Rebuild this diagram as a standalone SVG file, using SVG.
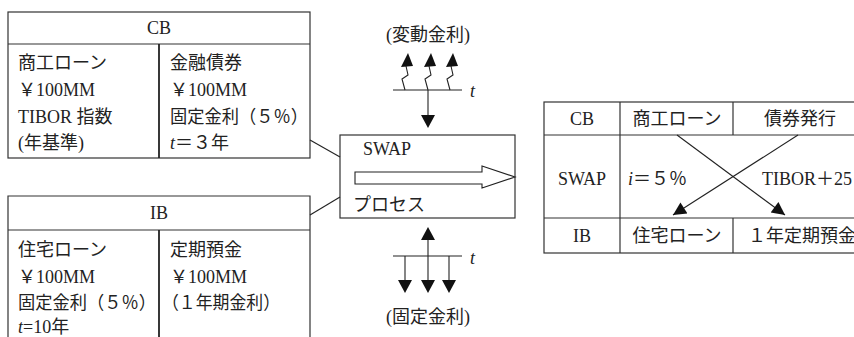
<svg xmlns="http://www.w3.org/2000/svg" width="854" height="337" viewBox="0 0 854 337">
<defs>
<style>
.t{font-family:"Liberation Serif","Noto Sans CJK JP",serif;font-size:18px;fill:#222}
.c{text-anchor:middle}
.b{fill:none;stroke:#333;stroke-width:1.2}
.d{stroke:#222;stroke-width:1.8}
.l{fill:none;stroke:#222;stroke-width:1.1}
.h{fill:#111;stroke:none}
</style>
<marker id="ah" viewBox="0 0 10 10" refX="10" refY="5" markerWidth="16" markerHeight="13" markerUnits="userSpaceOnUse" orient="auto"><path d="M0,0 L10,5 L0,10 Z" fill="#111"/></marker>
</defs>
<rect width="854" height="337" fill="#fff"/>

<g id="cb">
<rect class="b" x="8" y="12" width="302" height="146"/>
<line class="b" x1="8" y1="44" x2="310" y2="44"/>
<line class="d" x1="159" y1="44" x2="159" y2="158"/>
<text class="t c" x="159" y="34">CB</text>
<text class="t" x="18" y="69">商工ローン</text>
<text class="t" x="18" y="96">￥100MM</text>
<text class="t" x="18" y="123">TIBOR 指数</text>
<text class="t" x="18" y="149">(年基準)</text>
<text class="t" x="170" y="69">金融債券</text>
<text class="t" x="170" y="96">￥100MM</text>
<text class="t" x="170" y="123" textLength="138" lengthAdjust="spacingAndGlyphs">固定金利（５％）</text>
<text class="t" x="170" y="149"><tspan font-style="italic">t</tspan>＝３年</text>
</g>

<g id="ib">
<path class="b" d="M8,340 V196 H310 V340"/>
<line class="b" x1="8" y1="230" x2="310" y2="230"/>
<line class="d" x1="159" y1="230" x2="159" y2="340"/>
<text class="t c" x="159" y="219">IB</text>
<text class="t" x="18" y="256">住宅ローン</text>
<text class="t" x="18" y="283">￥100MM</text>
<text class="t" x="18" y="309" textLength="138" lengthAdjust="spacingAndGlyphs">固定金利（５％）</text>
<text class="t" x="18" y="333"><tspan font-style="italic">t</tspan>=10年</text>
<text class="t" x="170" y="256">定期預金</text>
<text class="t" x="170" y="283">￥100MM</text>
<text class="t" x="162" y="309" textLength="118" lengthAdjust="spacingAndGlyphs">（１年期金利）</text>
</g>

<g id="swap">
<rect class="b" x="340" y="135" width="175" height="83"/>
<text class="t" x="363" y="155">SWAP</text>
<path class="l" d="M355,172 H482 V166 L515,177 L482,188 V184 H355 Z"/>
<text class="t" x="353" y="211">プロセス</text>
</g>

<g id="floating">
<text class="t c" x="428" y="41">(変動金利)</text>
<line class="l" x1="393" y1="90" x2="462" y2="90"/>
<text class="t" x="470" y="97" font-style="italic">t</text>
<path class="l" d="M405,90 L402,79 L408,75 L406,66"/>
<polygon class="h" points="408,53 401,67 413,66"/>
<path class="l" d="M428,90 L425,79 L431,75 L429,66"/>
<polygon class="h" points="431,53 424,67 436,66"/>
<path class="l" d="M450,90 L447,79 L453,75 L451,66"/>
<polygon class="h" points="453,53 446,67 458,66"/>
<line class="l" x1="428" y1="90" x2="428" y2="116"/>
<polygon class="h" points="421,115 435,115 428,128"/>
</g>

<g id="fixed">
<polygon class="h" points="421,240 435,240 428,227"/>
<line class="l" x1="428" y1="240" x2="428" y2="281"/>
<line class="l" x1="393" y1="256" x2="462" y2="256"/>
<text class="t" x="470" y="264" font-style="italic">t</text>
<line class="l" x1="405" y1="256" x2="405" y2="281"/>
<line class="l" x1="449" y1="256" x2="449" y2="281"/>
<polygon class="h" points="398,280 412,280 405,293"/>
<polygon class="h" points="421,280 435,280 428,293"/>
<polygon class="h" points="442,280 456,280 449,293"/>
<text class="t c" x="428" y="323">(固定金利)</text>
</g>

<g id="table">
<rect class="b" x="544" y="102" width="320" height="151"/>
<line class="b" x1="544" y1="135" x2="864" y2="135"/>
<line class="b" x1="544" y1="218" x2="864" y2="218"/>
<line class="b" x1="620" y1="102" x2="620" y2="253"/>
<line class="b" x1="733" y1="102" x2="733" y2="135"/>
<line class="b" x1="733" y1="218" x2="733" y2="253"/>
<text class="t c" x="582" y="125">CB</text>
<text class="t c" x="677" y="125">商工ローン</text>
<text class="t c" x="800" y="125">債券発行</text>
<text class="t c" x="582" y="185">SWAP</text>
<text class="t" x="628" y="185"><tspan font-style="italic">i</tspan>＝５％</text>
<text class="t" x="762" y="185">TIBOR＋25</text>
<text class="t c" x="582" y="242">IB</text>
<text class="t c" x="677" y="242">住宅ローン</text>
<text class="t" x="748" y="242">１年定期預金</text>
</g>

<g id="connectors">
<line class="l" x1="310" y1="140" x2="340" y2="157"/>
<line class="l" x1="310" y1="215" x2="340" y2="197"/>
<line class="l" x1="677" y1="135" x2="785" y2="215" marker-end="url(#ah)"/>
<line class="l" x1="798" y1="135" x2="673" y2="215" marker-end="url(#ah)"/>
</g>
</svg>
